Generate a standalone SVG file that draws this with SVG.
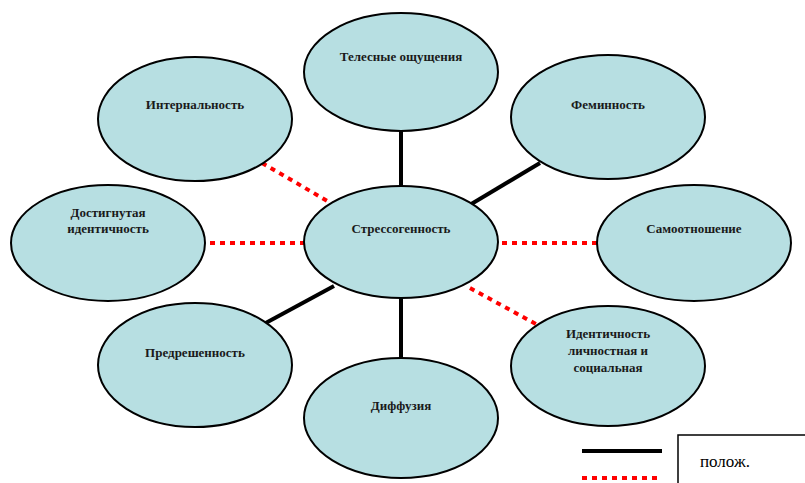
<svg xmlns="http://www.w3.org/2000/svg" width="805" height="483" viewBox="0 0 805 483">
<style>
.n ellipse{fill:#b7dfe2;stroke:#000;stroke-width:2}
.n text{font-family:"Liberation Serif",serif;font-weight:bold;font-size:13px;text-anchor:middle;fill:#1a1a1a}
.s{stroke:#000;stroke-width:4;fill:none}
.d{stroke:#f00;stroke-width:4;stroke-dasharray:5 5;fill:none}
</style>
<rect width="805" height="483" fill="#fff"/>
<g id="connectors">
<line class="s" x1="401" y1="125" x2="401" y2="192"/>
<line class="s" x1="540" y1="163" x2="468" y2="206"/>
<line class="d" x1="262" y1="163" x2="336" y2="206"/>
<line class="d" x1="200" y1="243" x2="310" y2="243"/>
<line class="d" x1="492" y1="243" x2="600" y2="243"/>
<line class="s" x1="262" y1="325" x2="334" y2="286"/>
<line class="s" x1="401" y1="292" x2="401" y2="365"/>
<line class="d" x1="470" y1="288" x2="545" y2="329"/>
</g>
<g id="n-teles" class="n"><ellipse cx="401" cy="72" rx="97" ry="59"/><text x="401" y="61">Телесные ощущения</text></g>
<g id="n-intern" class="n"><ellipse cx="195" cy="119" rx="97" ry="62"/><text x="195" y="109">Интернальность</text></g>
<g id="n-femin" class="n"><ellipse cx="608" cy="117" rx="97" ry="62"/><text x="608" y="109">Феминность</text></g>
<g id="n-dostig" class="n"><ellipse cx="108" cy="243" rx="97" ry="58"/><text x="108" y="217">Достигнутая</text><text x="108" y="233">идентичность</text></g>
<g id="n-stress" class="n"><ellipse cx="401" cy="242" rx="97" ry="56"/><text x="401" y="233">Стрессогенность</text></g>
<g id="n-samo" class="n"><ellipse cx="694" cy="243" rx="97" ry="58"/><text x="694" y="233">Самоотношение</text></g>
<g id="n-predr" class="n"><ellipse cx="195" cy="365" rx="97" ry="62"/><text x="195" y="357">Предрешенность</text></g>
<g id="n-diff" class="n"><ellipse cx="401" cy="418" rx="97" ry="60"/><text x="401" y="410">Диффузия</text></g>
<g id="n-ident" class="n"><ellipse cx="608" cy="366" rx="97" ry="60"/><text x="608" y="338">Идентичность</text><text x="608" y="355">личностная и</text><text x="608" y="372">социальная</text></g>
<g id="legend">
<line class="s" x1="582" y1="451" x2="662" y2="451"/>
<line class="d" x1="582" y1="478" x2="662" y2="478"/>
<rect x="678" y="435" width="140" height="60" fill="#fff" stroke="#000" stroke-width="1.5"/>
<text x="700" y="467" font-family="Liberation Serif,serif" font-size="17" fill="#000">полож.</text>
</g>
</svg>
